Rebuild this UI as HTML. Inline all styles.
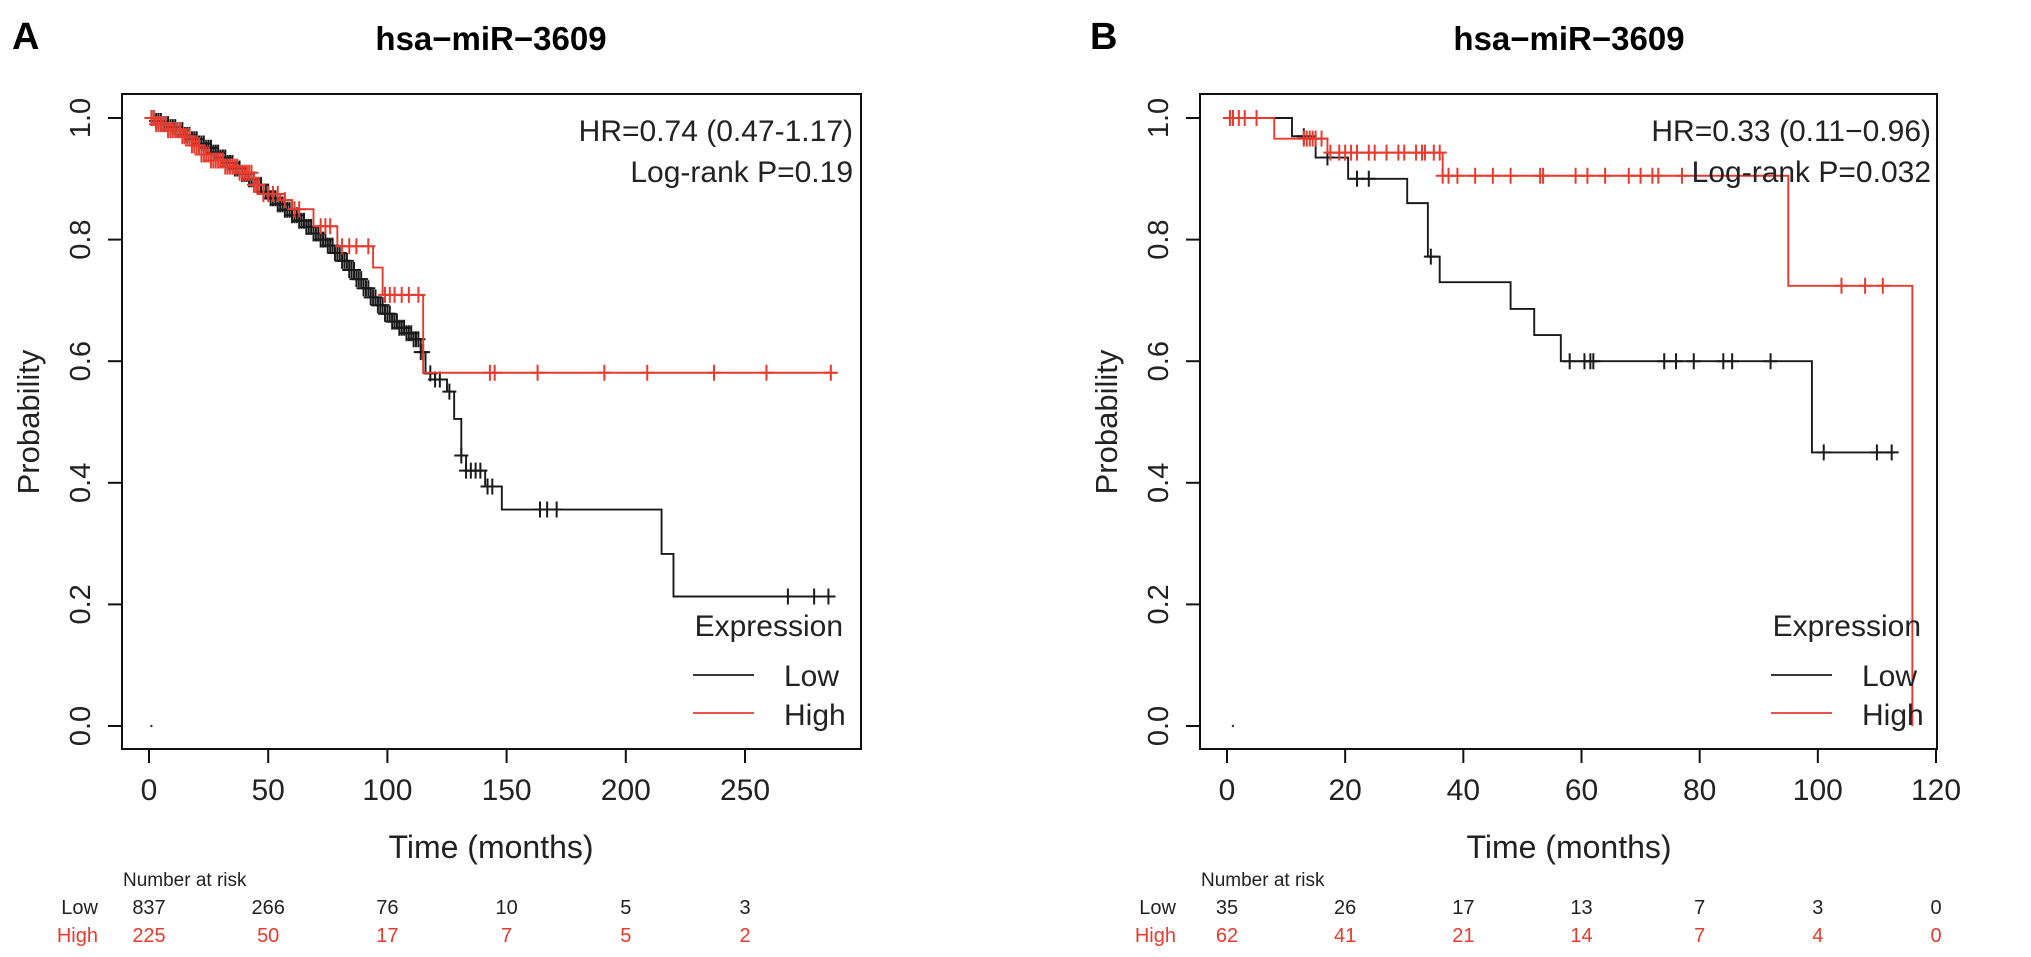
<!DOCTYPE html>
<html><head><meta charset="utf-8"><style>
html,body{margin:0;padding:0;background:#fff;}
svg{display:block;font-family:"Liberation Sans",Arial,sans-serif;}
</style></head><body>
<svg id="fig" width="2031" height="957" viewBox="0 0 2031 957"></svg>
<script>
// ---------- Panel A data ----------
const aLowSteps = [[0,1],[3,0.995],[6,0.99],[9,0.985],[12,0.98],[15,0.972],[18,0.965],[21,0.958],[24,0.951],[27,0.943],[30,0.935],[33,0.926],[36,0.917],[39,0.908],[42,0.899],[45,0.89],[48,0.879],[51,0.868],[54,0.858],[57,0.849],[60,0.84],[63,0.831],[66,0.821],[69,0.81],[72,0.8],[75,0.79],[78,0.778],[81,0.765],[84,0.75],[87,0.735],[90,0.72],[93,0.705],[96,0.692],[99,0.678],[102,0.665],[105,0.655],[108,0.646],[111,0.636],[114,0.615],[116,0.58],[120,0.57],[125,0.55],[128,0.505],[131,0.445],[133,0.42],[141,0.394],[148,0.356],[215,0.283],[220,0.213]];
const aLowEnd = 287;
const aLowCensor = [2,3,4,5,6,7,8,9,10,11,12,13,14,15,16,17,18,19,20,21,22,23,24,25,26,27,28,29,30,31,32,33,34,35,36,37,38,39,40,41,42,43,44,45,46,47,48,49,50,51,52,53,54,55,56,57,58,59,60,61,62,63,64,65,66,67,68,69,70,71,72,73,74,75,76,77,78,79,80,81,82,83,84,85,86,87,88,89,90,91,92,93,94,95,96,97,98,99,100,101,102,103,104,105,106,107,108,109,110,111,112,113,114,115,118,120,122,126,131,133,135,137,139,142,144,164,167,171,268,279,285];
const aHighSteps = [[0,1],[3,0.99],[8,0.98],[14,0.97],[18,0.955],[22,0.94],[26,0.93],[32,0.92],[38,0.91],[44,0.89],[48,0.875],[55,0.865],[60,0.85],[69,0.822],[79,0.789],[94,0.754],[98,0.709],[115,0.581]];
const aHighEnd = 288;
const aHighCensor = [1,2,3,4,5,6,7,8,9,10,11,12,13,14,15,16,17,18,19,20,21,22,23,24,25,26,27,28,29,30,31,32,33,34,35,36,37,38,39,40,41,42,43,44,45,46,48,50,52,54,57,61,63,72,74,76,81,84,87,92,99,101,103,106,109,113,143,145,163,191,209,237,259,286];
const aXTicks = [0,50,100,150,200,250];
const aRiskLow = [837,266,76,10,5,3];
const aRiskHigh = [225,50,17,7,5,2];
// ---------- Panel B data ----------
const bLowSteps = [[0,1],[11,0.97],[15,0.935],[20.5,0.90],[30.5,0.86],[34,0.772],[36,0.73],[48,0.686],[52,0.643],[56.5,0.60],[99,0.45]];
const bLowEnd = 113;
const bLowCensor = [1,13,17,22,24,34.5,58,60.5,61.5,62,74,76,79,84,85.5,92,101,110,112.5];
const bHighSteps = [[0,1],[8,0.966],[17,0.943],[36.5,0.905],[95,0.724],[116,0.0]];
const bHighEnd = 116;
const bHighCensor = [0.5,1,2,3,5,13,13.5,14,14.5,15,16,17.5,19,20,21,22,24,25,27,29,30,32,33,33.5,35,36,36.5,37.5,39,42,45,48,53,53.5,59,61,64,68,70,72,73,77,104,108,111];
const bXTicks = [0,20,40,60,80,100,120];
const bRiskLow = [35,26,17,13,7,3,0];
const bRiskHigh = [62,41,21,14,7,4,0];
const yTicks = [0,0.2,0.4,0.6,0.8,1.0];

const NS = "http://www.w3.org/2000/svg";
const svg = document.getElementById('fig');
const RED = "#e63b2e", BLK = "#1a1a1a";
function mk(tag, attrs, parent, text){
  const e = document.createElementNS(NS, tag);
  for (const k in attrs) e.setAttribute(k, attrs[k]);
  if (text !== undefined) e.textContent = text;
  (parent || svg).appendChild(e);
  return e;
}
function survAt(steps, t){
  let s = 1;
  for (const p of steps){ if (p[0] <= t) s = p[1]; }
  return s;
}
function panel(off, letter, xTicks, lowSteps, lowEnd, lowCensor, highSteps, highEnd, highCensor, hr, pval, riskLow, riskHigh, key){
  const g = mk('g', {});
  
  
  const xTickMaxVal = xTicks[xTicks.length - 1];
  const xs = v => (149 + off) + v / xTickMaxVal * (xTickMaxVal === 250 ? 596 : 709);
  const ys = v => 726 - v * 608;
  const L = 122 + off, R = (key === 'a' ? 861 : 859) + off;

  let t = mk('text', {x: 12 + off, y: 49, 'font-size': 38, 'font-weight': 'bold', fill: '#000'}, g, letter);
  
  
  t = mk('text', {x: 491 + off, y: 50, 'font-size': 33, 'font-weight': 'bold', 'text-anchor': 'middle', fill: '#000'}, g, 'hsa\u2212miR\u22123609');
  
  

  const box = mk('rect', {x: L, y: 94, width: R - L, height: 655, fill: 'none', stroke: '#111', 'stroke-width': 2}, g);
  
  

  yTicks.forEach(v => {
    mk('line', {x1: L - 14, x2: L, y1: ys(v), y2: ys(v), stroke: '#111', 'stroke-width': 2}, g);
    const yl = mk('text', {x: 0, y: 0, 'font-size': 29, 'text-anchor': 'middle', fill: '#222', transform: `translate(${90 + off},${ys(v)}) rotate(-90)`}, g, v.toFixed(1));
    
    
  });
  t = mk('text', {x: 0, y: 0, 'font-size': 31, 'text-anchor': 'middle', fill: '#222', transform: `translate(${39 + off},422) rotate(-90)`}, g, 'Probability');
  
  

  xTicks.forEach(v => {
    mk('line', {x1: xs(v), x2: xs(v), y1: 749, y2: 763, stroke: '#111', 'stroke-width': 2}, g);
    const xl = mk('text', {x: xs(v), y: 800, 'font-size': 30, 'text-anchor': 'middle', fill: '#222'}, g, String(v));
    
    
  });
  t = mk('text', {x: 491 + off, y: 858, 'font-size': 32, 'text-anchor': 'middle', fill: '#222'}, g, 'Time (months)');
  
  

  function curve(steps, end, censor, color, name){
    let d = '';
    steps.forEach((p, i) => {
      if (i === 0) d += `M${xs(p[0])},${ys(p[1])}`;
      else d += `H${xs(p[0])}V${ys(p[1])}`;
    });
    d += `H${xs(end)}`;
    const pth = mk('path', {d: d, fill: 'none', stroke: color, 'stroke-width': 1.9}, g);
    
    
    censor.forEach(c => {
      const cx = xs(c), cy = ys(survAt(steps, c));
      const m = mk('path', {d: `M${cx - 7},${cy}H${cx + 7}M${cx},${cy - 8}V${cy + 8}`, stroke: color, 'stroke-width': 2, fill: 'none'}, g);
      
      
    });
  }
  curve(lowSteps, lowEnd, lowCensor, BLK, 'low-' + key);
  curve(highSteps, highEnd, highCensor, RED, 'high-' + key);
  mk('circle', {cx: xs(1), cy: ys(0), r: 1.2, fill: '#333'}, g);

  t = mk('text', {x: 853 + off, y: 141, 'font-size': 30, 'text-anchor': 'end', fill: '#222'}, g, hr);
  
  
  t = mk('text', {x: 853 + off, y: 182, 'font-size': 30, 'text-anchor': 'end', fill: '#222'}, g, pval);
  
  

  const lg = mk('g', {}, g);
  
  
  mk('text', {x: 843 + off, y: 636, 'font-size': 30, 'text-anchor': 'end', fill: '#222'}, lg, 'Expression');
  const e1 = mk('g', {}, lg);
  
  
  mk('line', {x1: 693 + off, x2: 754 + off, y1: 675, y2: 675, stroke: BLK, 'stroke-width': 1.8}, e1);
  mk('text', {x: 784 + off, y: 686, 'font-size': 30, fill: '#222'}, e1, 'Low');
  const e2 = mk('g', {}, lg);
  
  
  mk('line', {x1: 693 + off, x2: 754 + off, y1: 713, y2: 713, stroke: RED, 'stroke-width': 1.8}, e2);
  mk('text', {x: 784 + off, y: 725, 'font-size': 30, fill: '#222'}, e2, 'High');

  const rg = mk('g', {}, g);
  
  
  mk('text', {x: 123 + off, y: 886, 'font-size': 19, fill: '#222'}, rg, 'Number at risk');
  mk('text', {x: 98 + off, y: 914, 'font-size': 20, 'text-anchor': 'end', fill: '#222'}, rg, 'Low');
  mk('text', {x: 98 + off, y: 942, 'font-size': 20, 'text-anchor': 'end', fill: RED}, rg, 'High');
  xTicks.forEach((v, i) => {
    mk('text', {x: xs(v), y: 914, 'font-size': 20, 'text-anchor': 'middle', fill: '#222'}, rg, String(riskLow[i]));
    mk('text', {x: xs(v), y: 942, 'font-size': 20, 'text-anchor': 'middle', fill: RED}, rg, String(riskHigh[i]));
  });
}
panel(0, 'A', aXTicks, aLowSteps, aLowEnd, aLowCensor, aHighSteps, aHighEnd, aHighCensor, 'HR=0.74 (0.47-1.17)', 'Log-rank P=0.19', aRiskLow, aRiskHigh, 'a');
panel(1078, 'B', bXTicks, bLowSteps, bLowEnd, bLowCensor, bHighSteps, bHighEnd, bHighCensor, 'HR=0.33 (0.11\u22120.96)', 'Log-rank P=0.032', bRiskLow, bRiskHigh, 'b');
</script>
</body></html>
